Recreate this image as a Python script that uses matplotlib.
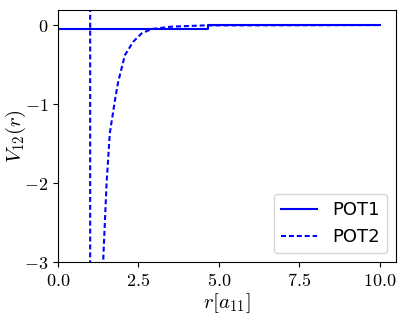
import matplotlib
matplotlib.use("Agg")
import matplotlib.pyplot as plt
from matplotlib.ticker import FuncFormatter

plt.rcParams['mathtext.fontset'] = 'cm'

# POT1: shallow square well
r_pot1 = [0.0, 4.66, 4.66, 10.0]
v_pot1 = [-0.045, -0.045, 0.0, 0.0]

# POT2: hard core at r=1 followed by attractive tail
r_pot2 = [0.0, 1.0, 1.0, 1.41, 1.51, 1.61, 1.77, 1.87, 2.08, 2.34, 2.6, 2.91, 3.53, 4.5, 10.0]
v_pot2 = [5.0, 5.0, -9.5, -2.93, -2.0, -1.37, -0.95, -0.72, -0.38, -0.21, -0.105, -0.05, -0.02, -0.005, 0.0]

x_ticks = [0.0, 2.5, 5.0, 7.5, 10.0]
y_ticks = [0, -1, -2, -3]

fig = plt.figure(figsize=(4.07, 3.14), dpi=100)
ax = fig.add_axes([0.1425, 0.165, 0.83, 0.803])

ax.plot(r_pot1, v_pot1, color='blue', linestyle='-', linewidth=1.5, label='POT1')
ax.plot(r_pot2, v_pot2, color='blue', linestyle=(0, (2.4, 1.4)), linewidth=1.5, label='POT2')

ax.set_xlim(0, 10.5)
ax.set_ylim(-3, 0.19)
ax.set_xticks(x_ticks)
ax.set_yticks(y_ticks)
ax.xaxis.set_major_formatter(FuncFormatter(lambda v, p: f"${v:.1f}$"))
ax.yaxis.set_major_formatter(FuncFormatter(lambda v, p: f"${v:.0f}$"))
ax.tick_params(labelsize=13)

ax.set_xlabel(r"$r[a_{11}]$", fontsize=15, labelpad=1)
ax.set_ylabel(r"$V_{12}(r)$", fontsize=15)
ax.yaxis.set_label_coords(-0.088, 0.5)

ax.legend(loc='lower right', fontsize=13)

fig.savefig("out.png", dpi=100)
